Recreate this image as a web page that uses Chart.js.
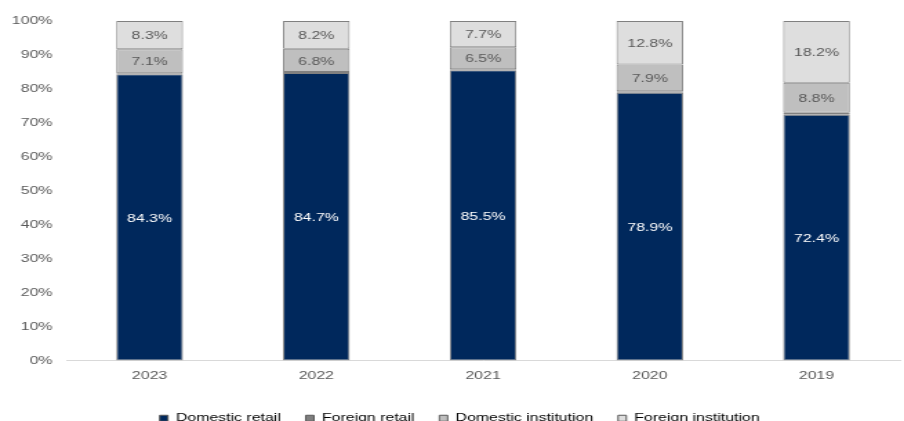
<!DOCTYPE html>
<html>
<head>
<meta charset="utf-8">
<script src="https://cdn.jsdelivr.net/npm/chart.js@4/dist/chart.umd.min.js"></script>
<style>
  html, body { margin: 0; padding: 0; background: #fff; overflow: hidden; }
  /* chart is drawn narrow and widened to the page width */
  #wrap { width: 655px; height: 421px; transform: scaleX(1.3802); transform-origin: 0 0; }
</style>
</head>
<body>
<div id="wrap"><canvas id="shareChart"></canvas></div>
<script>
const years = ['2023', '2022', '2021', '2020', '2019'];
const domesticRetail = [84.3, 84.7, 85.5, 78.9, 72.4];
const foreignRetail = [0.3, 0.3, 0.3, 0.4, 0.6];
const domesticInstitution = [7.1, 6.8, 6.5, 7.9, 8.8];
const foreignInstitution = [8.3, 8.2, 7.7, 12.8, 18.2];
const yTicks = [0, 10, 20, 30, 40, 50, 60, 70, 80, 90, 100];

const FONT = '"Liberation Sans", Arial, sans-serif';
const TEXT_GREY = '#595959';

// writes the share inside each segment (foreign retail is too thin)
const segmentLabels = {
    id: 'segmentLabels',
    afterDatasetsDraw(chart) {
        const ctx = chart.ctx;
        ctx.save();
        ctx.font = '11.5px ' + FONT;
        ctx.textAlign = 'center';
        ctx.textBaseline = 'middle';
        chart.data.datasets.forEach((ds, i) => {
            if (!ds.showLabels) return;
            chart.getDatasetMeta(i).data.forEach((bar, j) => {
                const mid = (bar.y + bar.base) / 2;
                ctx.fillStyle = i === 0 ? '#ffffff' : TEXT_GREY;
                ctx.fillText(ds.data[j].toFixed(1) + '%', bar.x, mid + 1);
            });
        });
        ctx.restore();
    }
};

// legend row sits a little right of the canvas centre
const legendNudge = {
    id: 'legendNudge',
    afterLayout(chart) {
        chart.legend.left += 14;
    }
};

function makeSet(label, data, color, showLabels) {
    return {
        label: label,
        data: data,
        backgroundColor: color,
        borderColor: '#808080',
        borderWidth: 1,
        borderSkipped: false,
        categoryPercentage: 1,
        barPercentage: 0.4,
        showLabels: showLabels
    };
}

new Chart(document.getElementById('shareChart'), {
    type: 'bar',
    data: {
        labels: years,
        datasets: [
            makeSet('Domestic retail', domesticRetail, '#00285c', true),
            makeSet('Foreign retail', foreignRetail, '#7f7f7f', false),
            makeSet('Domestic institution', domesticInstitution, '#bfbfbf', true),
            makeSet('Foreign institution', foreignInstitution, '#dedede', true)
        ]
    },
    options: {
        responsive: true,
        maintainAspectRatio: false,
        animation: false,
        layout: { padding: { top: 21, right: 3, left: 0, bottom: -13 } },
        plugins: {
            tooltip: { enabled: false },
            legend: {
                position: 'bottom',
                labels: {
                    boxWidth: 6,
                    boxHeight: 6,
                    padding: 18,
                    color: TEXT_GREY,
                    font: { family: FONT, size: 11.5 },
                    generateLabels(chart) {
                        return chart.data.datasets.map((ds, i) => ({
                            text: ds.label,
                            fillStyle: ds.backgroundColor,
                            strokeStyle: '#595959',
                            lineWidth: 1,
                            datasetIndex: i
                        }));
                    }
                }
            }
        },
        scales: {
            x: {
                stacked: true,
                grid: { display: false, drawTicks: false },
                border: { display: true, color: '#d9d9d9' },
                ticks: { color: TEXT_GREY, font: { family: FONT, size: 11.5 }, padding: 8 },
                afterFit(scale) { scale.height = 34; }
            },
            y: {
                stacked: true,
                min: 0,
                max: 100,
                grid: { display: false, drawTicks: false },
                border: { display: false },
                afterBuildTicks(scale) { scale.ticks = yTicks.map(v => ({ value: v })); },
                ticks: {
                    color: TEXT_GREY,
                    font: { family: FONT, size: 11.5 },
                    padding: 10,
                    callback: v => v + '%'
                },
                afterFit(scale) { scale.width = 48; }
            }
        }
    },
    plugins: [segmentLabels, legendNudge]
});
</script>
</body>
</html>
